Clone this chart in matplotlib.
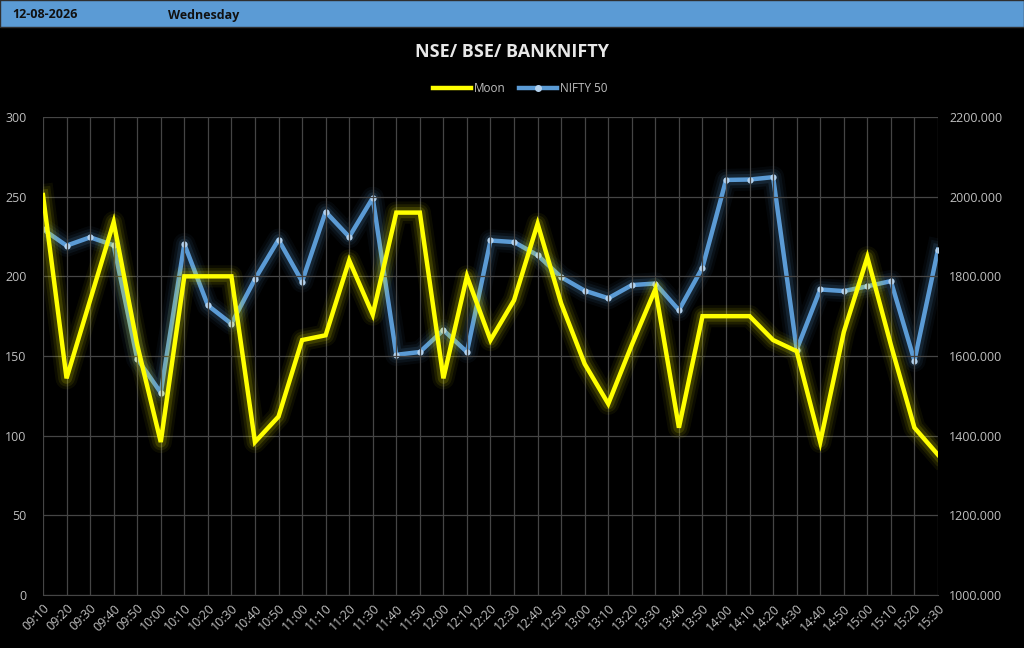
import numpy as np
import matplotlib.pyplot as plt
from matplotlib.patches import Rectangle

# data
times = ['09:10', '09:20', '09:30', '09:40', '09:50', '10:00', '10:10', '10:20', '10:30', '10:40',
         '10:50', '11:00', '11:10', '11:20', '11:30', '11:40', '11:50', '12:00', '12:10', '12:20',
         '12:30', '12:40', '12:50', '13:00', '13:10', '13:20', '13:30', '13:40', '13:50', '14:00',
         '14:10', '14:20', '14:30', '14:40', '14:50', '15:00', '15:10', '15:20', '15:30']
moon = [251, 136, 185, 234, 157, 96, 200, 200, 200, 96,
        112, 160, 163, 210, 176, 240, 240, 136, 200, 160,
        185, 233, 183, 145, 120, 157, 192, 105, 175, 175,
        175, 160, 153, 96, 165, 212, 157, 105, 88]
nifty = [1918, 1877, 1898, 1878, 1593, 1508, 1881, 1727, 1681, 1793,
         1892, 1787, 1962, 1899, 1997, 1603, 1610, 1665, 1610, 1890,
         1886, 1853, 1798, 1764, 1745, 1778, 1782, 1715, 1822, 2042,
         2043, 2049, 1616, 1767, 1763, 1775, 1788, 1588, 1867]
date_txt = '12-08-2026'
day_txt = 'Wednesday'

yellow = '#ffff00'
blue = '#5b9bd5'
txt = '#bfbfbf'
grid = '#454545'

plt.rcParams['font.family'] = ['Open Sans', 'DejaVu Sans']

fig = plt.figure(figsize=(10.24, 6.48), dpi=100, facecolor='black')
ax = fig.add_axes([43 / 1024, 1 - 595 / 648, (938 - 43) / 1024, (595 - 117) / 648])
ax.set_facecolor('black')
ax2 = ax.twinx()

x = np.arange(len(times))

# glow under the lines
for w, a in [(16, 0.05), (12, 0.08), (8, 0.14)]:
    ax.plot(x, moon, color=yellow, lw=w, alpha=a, solid_joinstyle='round', zorder=2)
    ax2.plot(x, nifty, color=blue, lw=w, alpha=a, solid_joinstyle='round', zorder=2)
ax.plot(x, moon, color=yellow, lw=3.2, solid_joinstyle='miter', zorder=3)
ax2.plot(x, nifty, color=blue, lw=3.2, marker='o', ms=4.5, mfc='#b4d2ee', mec='#b4d2ee', mew=0,
         solid_joinstyle='round', zorder=3)

ax.set_xlim(0, len(times) - 1)
ax.set_ylim(0, 300)
ax.set_yticks(np.arange(0, 301, 50))
ax2.set_ylim(1000, 2200)
ax2.set_yticks(np.arange(1000, 2201, 200))
ax2.set_yticklabels([f'{v:.3f}' for v in range(1000, 2201, 200)])

ax.set_xticks(x)
ax.set_xticklabels(times, rotation=45, ha='right', rotation_mode='anchor')
ax.grid(True, color=grid, lw=0.9)
ax.set_axisbelow(True)

for a in (ax, ax2):
    for s in a.spines.values():
        s.set_visible(False)
    a.tick_params(colors=txt, labelsize=9, length=0)
ax.spines['bottom'].set_visible(True)
ax.spines['bottom'].set_color(grid)
ax.tick_params(axis='y', pad=12)
ax2.tick_params(axis='y', pad=8)
ax.tick_params(axis='x', pad=5)
ax.set_zorder(ax2.get_zorder() + 1)
ax.patch.set_visible(False)
ax2.patch.set_visible(True)
ax2.patch.set_facecolor('black')

# header band
fig.patches.append(Rectangle((0, 1 - 27 / 648), 1, 27 / 648, transform=fig.transFigure,
                             facecolor=blue, edgecolor='#2f2f2f', lw=1))
fig.text(12 / 1024, 1 - 15 / 648, date_txt, color='#111111', fontsize=9, fontweight='bold', va='center')
fig.text(168 / 1024, 1 - 15 / 648, day_txt, color='#111111', fontsize=9, fontweight='bold', va='center')

fig.text(0.5, 1 - 52 / 648, 'NSE/ BSE/ BANKNIFTY', color='#e8e8e8', fontsize=13, fontweight='bold',
         ha='center', va='center')

h1, = ax.plot([], [], color=yellow, lw=3.2, label='Moon')
h2, = ax.plot([], [], color=blue, lw=3.2, marker='o', ms=4, mfc='#b4d2ee', mec='#b4d2ee', label='NIFTY 50')
fig.legend(handles=[h1, h2], loc='center', bbox_to_anchor=(0.508, 1 - 89 / 648), ncol=2, frameon=False,
           fontsize=8.5, labelcolor=txt, handlelength=3.2, handletextpad=0.2, columnspacing=1.2)

fig.savefig('out.png', dpi=100, facecolor='black')
